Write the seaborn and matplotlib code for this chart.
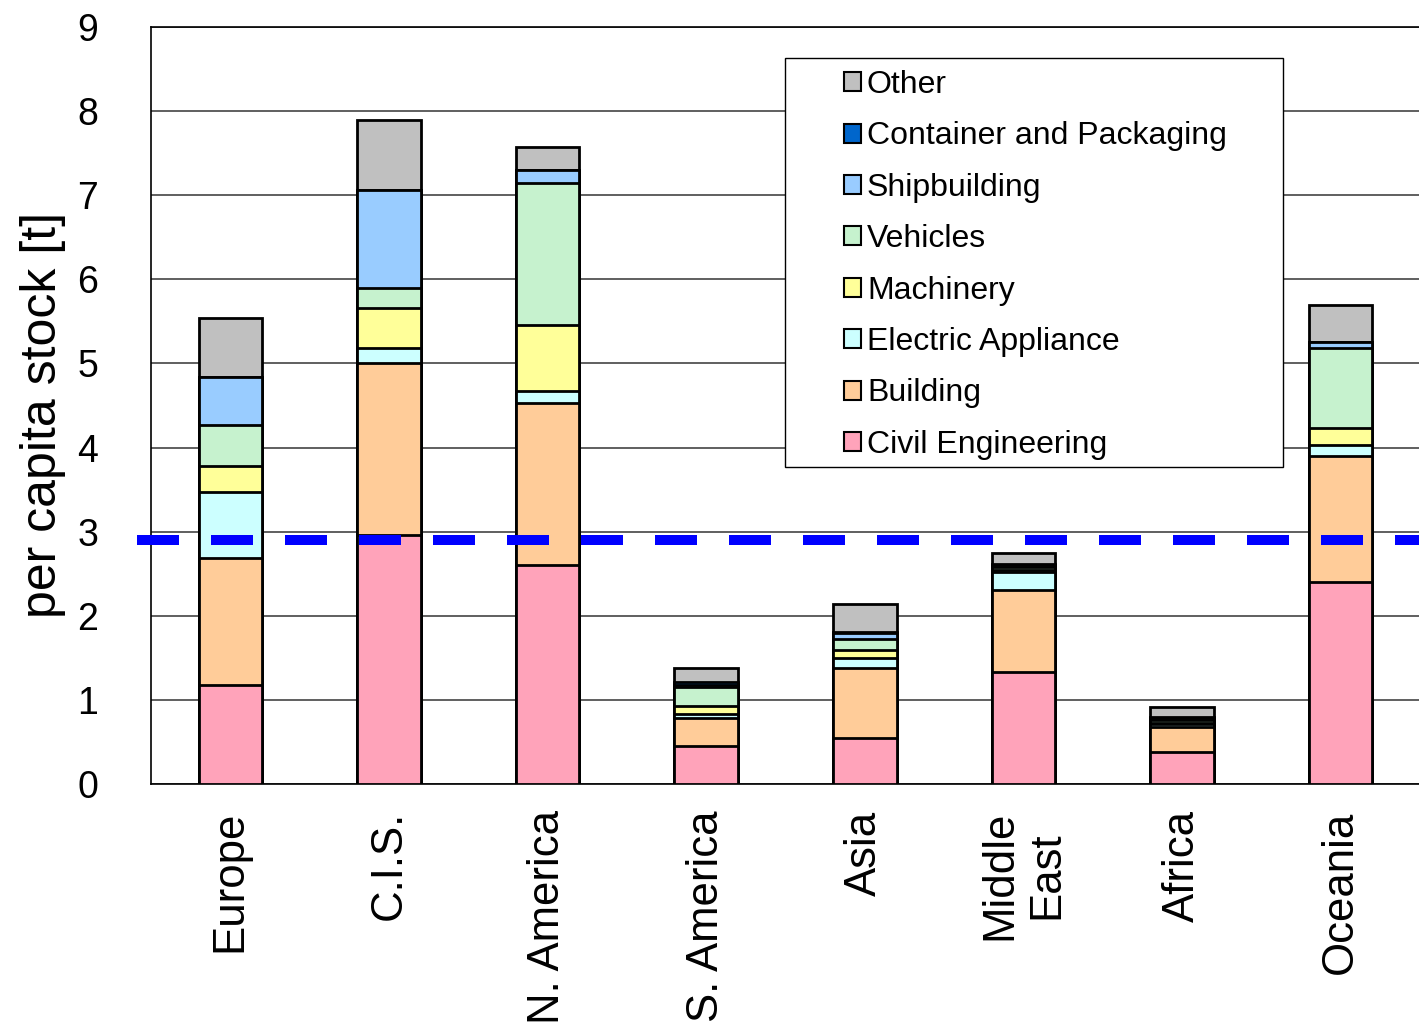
import numpy as np
import pandas as pd
import matplotlib
matplotlib.use("Agg")
import matplotlib.pyplot as plt
import seaborn as sns
from matplotlib.patches import Patch, Rectangle
from matplotlib.ticker import FixedLocator

# Per capita steel stock by end use [t]
regions = ["Europe", "C.I.S.", "N. America", "S. America", "Asia",
           "Middle\nEast", "Africa", "Oceania"]
civil_engineering = [1.18, 2.96, 2.60, 0.45, 0.55, 1.33, 0.38, 2.40]
building = [1.51, 2.05, 1.93, 0.33, 0.83, 0.98, 0.30, 1.50]
electric_appliance = [0.78, 0.17, 0.14, 0.05, 0.12, 0.21, 0.03, 0.13]
machinery = [0.31, 0.48, 0.79, 0.10, 0.09, 0.03, 0.02, 0.20]
vehicles = [0.49, 0.24, 1.69, 0.22, 0.13, 0.03, 0.03, 0.95]
shipbuilding = [0.57, 1.16, 0.15, 0.03, 0.08, 0.02, 0.02, 0.08]
container_packaging = [0.00, 0.00, 0.00, 0.03, 0.01, 0.02, 0.02, 0.00]
other = [0.70, 0.84, 0.27, 0.17, 0.33, 0.13, 0.12, 0.44]
world_average = 2.9

series_names = ["Civil Engineering", "Building", "Electric Appliance", "Machinery",
                "Vehicles", "Shipbuilding", "Container and Packaging", "Other"]
series_values = [civil_engineering, building, electric_appliance, machinery,
                 vehicles, shipbuilding, container_packaging, other]
series_colors = ["#FFA3BA", "#FFCC99", "#CCFFFF", "#FFFF99",
                 "#C6F2CE", "#99CCFF", "#0066CC", "#C0C0C0"]

sns.set_style("white")
plt.rcParams["font.family"] = ["Liberation Sans", "DejaVu Sans"]
plt.rcParams["text.color"] = "black"
plt.rcParams["axes.labelcolor"] = "black"
plt.rcParams["xtick.color"] = "black"
plt.rcParams["ytick.color"] = "black"

fig = plt.figure(figsize=(14.19, 10.31), dpi=100)
ax = fig.add_axes([151 / 1419, 1 - 784 / 1031, 1269 / 1419, 757 / 1031])

# Stacked bars: draw cumulative totals from the top layer downwards
tops = np.cumsum(np.array(series_values), axis=0)
for name, color, top in reversed(list(zip(series_names, series_colors, tops))):
    df = pd.DataFrame({"region": regions, "stock": top})
    sns.barplot(data=df, x="region", y="stock", order=regions, color=color,
                saturation=1, width=0.4, edgecolor="black", linewidth=2,
                errorbar=None, ax=ax, zorder=3)

# World average line
ax.axhline(world_average, xmin=-0.011, xmax=1.0, color="#0000FF", lw=7.2,
           dashes=(30.24 / 7.2, 23.04 / 7.2), clip_on=False, zorder=6)

ax.set_xlim(-0.5, 7.5)
ax.set_ylim(0, 9)
ax.set_yticks(range(10))
ax.grid(axis="y", color="#444444", lw=1.2)
ax.grid(axis="x", visible=False)
ax.set_axisbelow(True)
ax.tick_params(axis="y", length=0, pad=38, labelsize=27)
ax.set_xticks(range(len(regions)))
ax.set_xticklabels(regions, rotation=90, va="top", ha="center",
                   multialignment="center", fontsize=31.5)
ax.tick_params(axis="x", which="major", length=0, pad=19)
ax.xaxis.set_minor_locator(FixedLocator(np.arange(0.5, 7.5, 1.0)))
ax.tick_params(axis="x", which="minor", direction="in", length=10, width=1,
               color="black")
ax.set_xlabel("")
ax.set_ylabel("per capita stock [t]", fontsize=36)
ax.yaxis.label.set_va("center")
ax.yaxis.set_label_coords(-0.085, 0.487)
for side in ["left", "top", "bottom", "right"]:
    ax.spines[side].set_color("black")
    ax.spines[side].set_linewidth(1.2)

# Legend box and entries
ax.add_patch(Rectangle((785, 1031 - 467), 498, 409, transform=None,
                       facecolor="white", edgecolor="black", lw=1.0,
                       zorder=4, clip_on=False))
handles = [Patch(facecolor=c, edgecolor="black", lw=1.5, label=n)
           for n, c in zip(series_names, series_colors)][::-1]
leg = ax.legend(handles=handles, loc="upper left",
                bbox_to_anchor=(844 / 1419, 1 - 70 / 1031),
                bbox_transform=fig.transFigure, frameon=False, fontsize=23,
                handlelength=0.53, handleheight=0.53, handletextpad=0.19,
                labelspacing=0.67, borderpad=0, borderaxespad=0)
leg.set_zorder(5)

fig.savefig("out.png", dpi=100)
